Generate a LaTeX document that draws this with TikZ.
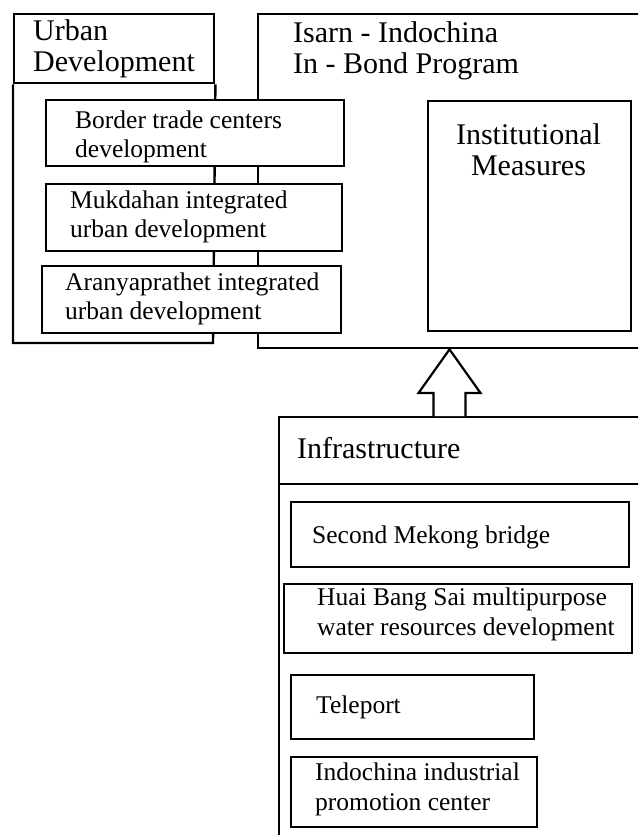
\documentclass[tikz,border=0pt]{standalone}
\usepackage{fontspec}
\setmainfont{Liberation Serif}
\usetikzlibrary{calc}
\begin{document}
\begin{tikzpicture}[x=1pt,y=-1pt,
  frame/.style={draw=black, line width=2.4pt, inner sep=0pt, anchor=north west},
  subbox/.style={frame, fill=white},
  arrowline/.style={draw=black, fill=white, line width=2.2pt, line join=miter},
  headtext/.style={anchor=north west, inner sep=0pt, align=left,
    font=\fontsize{30}{31}\selectfont},
  bodytext/.style={anchor=north west, inner sep=0pt, align=left,
    font=\fontsize{25.5}{29.5}\selectfont}]
\useasboundingbox (0,0) rectangle (638,835);
\clip (0,0) rectangle (638,835);

% program frame (open to the right)
\node[frame, minimum width=430, minimum height=334] (isarn) at (257,13) {};
% urban development: title box and frame below it
\node[frame, fill=white, minimum width=200, minimum height=69] (urbanhead) at (13,13) {};
\coordinate (urbanfoot) at (213,343);
\draw[line width=2.4pt] (urbanhead.south west) |- (urbanfoot) -- (urbanhead.south east);

% urban projects
\node[subbox, minimum width=298, minimum height=66] (border) at (45,99) {};
\node[subbox, minimum width=296, minimum height=67] (mukdahan) at (45,183) {};
\node[subbox, minimum width=299, minimum height=67] (aranya) at (41,265) {};

% institutional measures
\node[frame, minimum width=203, minimum height=230] (inst) at (427,100) {};

% infrastructure frame (open to the right and below)
\node[frame, minimum width=430, minimum height=440] (infra) at (278,416) {};
\coordinate (infraline) at (0,484);
\draw[line width=2.4pt] (infraline -| infra.west) -- (infraline -| infra.east);

% infrastructure projects
\node[subbox, minimum width=338, minimum height=65] (mekong) at (290,501) {};
\node[subbox, minimum width=348, minimum height=69] (huai) at (283,583) {};
\node[subbox, minimum width=243, minimum height=64] (teleport) at (290,674) {};
\node[subbox, minimum width=246, minimum height=70] (indochina) at (290,756) {};

% hollow block arrow from infrastructure up to the program
\coordinate (arrx) at (449.5,0);
\coordinate (arrtip) at (arrx |- isarn.south);
\coordinate (arrbase) at (arrx |- infra.north);
\draw[arrowline] ($(arrbase)+(-16,0)$) -- ++(0,-23) -- ++(-15,0) -- (arrtip)
  -- ($(arrbase)+(31,-23)$) -- ++(-15,0) -- ($(arrbase)+(16,0)$);

% titles
\node[headtext] (urbantitle) at (33,19.5) {Urban\\Development};
\node[headtext] (isarntitle) at (293,21.5) {Isarn - Indochina\\In - Bond Program};
\node[headtext, anchor=north, align=center] (insttitle) at (528.5,123.5) {Institutional\\Measures};
\node[headtext] (infratitle) at (297,437.5) {Infrastructure};

% project labels
\node[bodytext] (bordertext) at (75,110.6) {Border trade centers\\development};
\node[bodytext] (mukdahantext) at (70,190.6) {Mukdahan integrated\\urban development};
\node[bodytext] (aranyatext) at (65,272.6) {Aranyaprathet integrated\\urban development};
\node[bodytext] (mekongtext) at (312,525.6) {Second Mekong bridge};
\node[bodytext] (huaitext) at (317,587.6) {Huai Bang Sai multipurpose\\water resources development};
\node[bodytext] (teleporttext) at (316,695.6) {Teleport};
\node[bodytext] (indochinatext) at (315,762.6) {Indochina industrial\\promotion center};
\end{tikzpicture}
\end{document}
